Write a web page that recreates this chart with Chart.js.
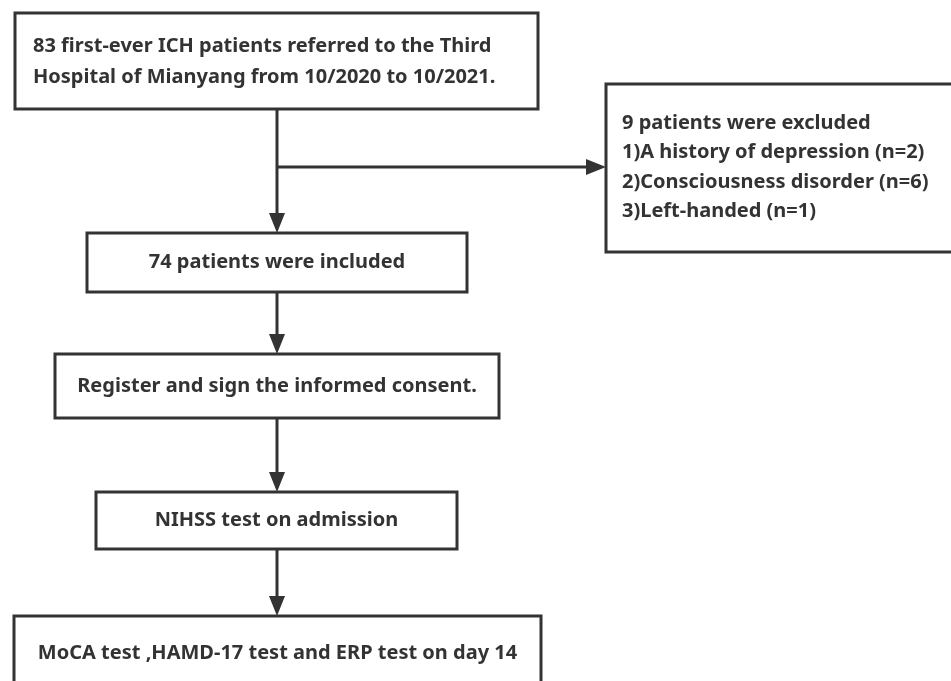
<!DOCTYPE html>
<html>
<head>
<meta charset="utf-8">
<script src="https://cdn.jsdelivr.net/npm/chart.js@4"></script>
<style>
  body { margin: 0; background: #fff; }
  #wrap { width: 951px; height: 681px; }
</style>
</head>
<body>
<div id="wrap"><canvas id="flow" width="951" height="681"></canvas></div>
<script>
// flowchart content
const nodeText = [
  ["83 first-ever ICH patients referred to the Third", "Hospital of Mianyang from 10/2020 to 10/2021."],
  ["74 patients were included"],
  ["Register and sign the informed consent."],
  ["NIHSS test on admission"],
  ["MoCA test ,HAMD-17 test and ERP test on day 14"],
  ["9 patients were excluded", "1)A history of depression (n=2)", "2)Consciousness disorder (n=6)", "3)Left-handed (n=1)"]
];
const excludedCounts = [2, 6, 1];
const includedCount = 74;

// layout, in axis units (0..951 x, 0..681 y)
const boxes = [
  {x0: 15, x1: 538, y0: 13, y1: 109, align: "left", tx: 33, ty: 46, lh: 31},
  {x0: 87, x1: 467, y0: 233, y1: 292, align: "center"},
  {x0: 55, x1: 499, y0: 354, y1: 418, align: "center"},
  {x0: 96, x1: 457, y0: 492, y1: 549, align: "center"},
  {x0: 14, x1: 541, y0: 616, y1: 700, align: "center", ty: 653},
  {x0: 606, x1: 970, y0: 84, y1: 252, align: "left", tx: 622, ty: 123, lh: 29.5}
];
const links = [
  {from: [277, 109], to: [277, 233]},
  {from: [277, 167], to: [606, 167]},
  {from: [277, 292], to: [277, 354]},
  {from: [277, 418], to: [277, 492]},
  {from: [277, 549], to: [277, 616]}
];

const ink = "#333333";

const flowPlugin = {
  id: "flow",
  afterDraw(chart) {
    const ctx = chart.ctx;
    const sx = chart.scales.x, sy = chart.scales.y;
    const px = v => sx.getPixelForValue(v);
    const py = v => sy.getPixelForValue(v);
    ctx.save();
    ctx.strokeStyle = ink;
    ctx.fillStyle = ink;
    ctx.lineWidth = 3;

    // connectors
    links.forEach(l => {
      const x0 = px(l.from[0]), y0 = py(l.from[1]);
      const x1 = px(l.to[0]), y1 = py(l.to[1]);
      const ang = Math.atan2(y1 - y0, x1 - x0);
      const len = 20, half = 8;
      const bx = x1 - len * Math.cos(ang), by = y1 - len * Math.sin(ang);
      ctx.beginPath();
      ctx.moveTo(x0, y0);
      ctx.lineTo(bx, by);
      ctx.stroke();
      ctx.beginPath();
      ctx.moveTo(x1, y1);
      ctx.lineTo(bx + half * Math.sin(ang), by - half * Math.cos(ang));
      ctx.lineTo(bx - half * Math.sin(ang), by + half * Math.cos(ang));
      ctx.closePath();
      ctx.fill();
    });

    // boxes and text
    ctx.font = "bold 20px 'Noto Sans'";
    ctx.textBaseline = "middle";
    boxes.forEach((b, i) => {
      const x0 = px(b.x0), x1 = px(b.x1), y0 = py(b.y0), y1 = py(b.y1);
      ctx.fillStyle = "#fff";
      ctx.fillRect(x0, y0, x1 - x0, y1 - y0);
      ctx.strokeRect(x0, y0, x1 - x0, y1 - y0);
      ctx.fillStyle = ink;
      const lines = nodeText[i];
      if (b.align === "left") {
        ctx.textAlign = "left";
        lines.forEach((t, k) => ctx.fillText(t, px(b.tx), py(b.ty + k * b.lh)));
      } else {
        ctx.textAlign = "center";
        const cy = b.ty !== undefined ? b.ty : (b.y0 + b.y1) / 2;
        ctx.fillText(lines[0], (x0 + x1) / 2, py(cy));
      }
    });
    ctx.restore();
  }
};

new Chart(document.getElementById("flow"), {
  type: "scatter",
  data: {
    datasets: [{
      data: boxes.map(b => ({x: (b.x0 + b.x1) / 2, y: (b.y0 + b.y1) / 2})),
      pointRadius: 0
    }]
  },
  options: {
    responsive: false,
    animation: false,
    layout: {padding: 0},
    plugins: {legend: {display: false}, tooltip: {enabled: false}},
    scales: {
      x: {type: "linear", min: 0, max: 951, display: false},
      y: {type: "linear", min: 0, max: 681, reverse: true, display: false}
    }
  },
  plugins: [flowPlugin]
});
</script>
</body>
</html>
